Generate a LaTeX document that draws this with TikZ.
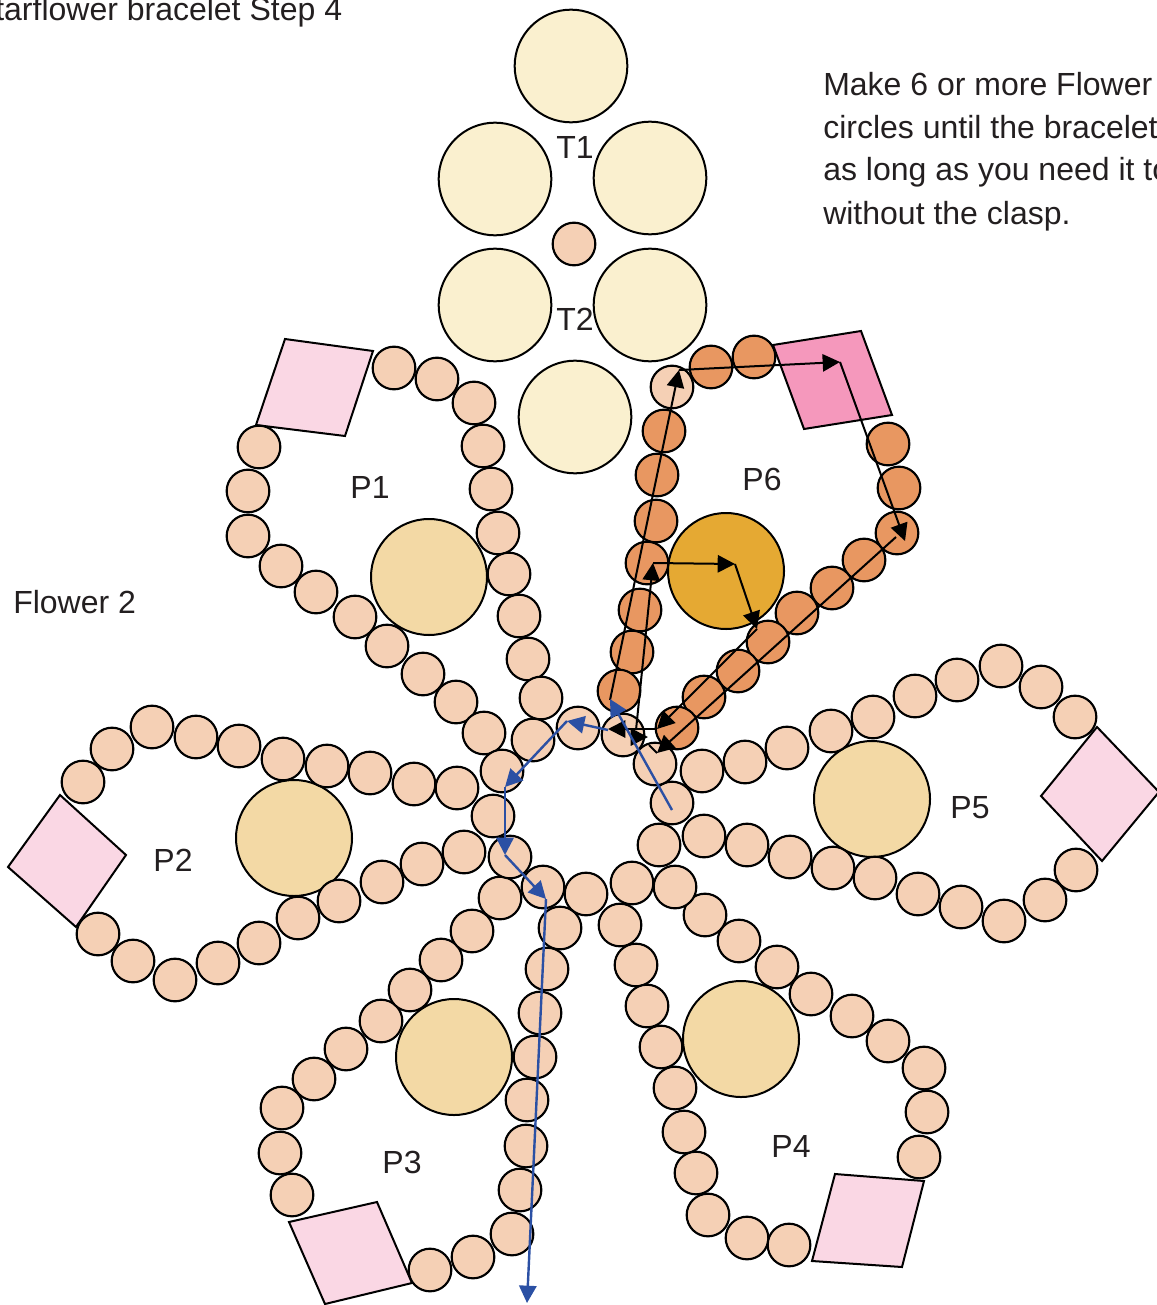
\documentclass[tikz,border=0pt]{standalone}
\usepackage{fontspec}
\setmainfont{Liberation Sans}
\usetikzlibrary{arrows.meta}
\definecolor{ink}{HTML}{231F20}
\definecolor{beadfill}{HTML}{F5D0B5}
\definecolor{orangefill}{HTML}{E89761}
\definecolor{creamfill}{HTML}{FAF0CF}
\definecolor{tanfill}{HTML}{F3D9A5}
\definecolor{goldfill}{HTML}{E5A933}
\definecolor{palepink}{HTML}{FAD7E4}
\definecolor{hotpink}{HTML}{F598BC}
\definecolor{bluearrow}{HTML}{2B50A4}
\tikzset{
  bead/.style={circle,draw=black,line width=1.6pt,fill=beadfill,minimum size=32pt,inner sep=0pt,outer sep=0pt},
  orangebead/.style={bead,fill=orangefill},
  topcircle/.style={circle,draw=black,line width=1.5pt,fill=creamfill,minimum size=84.5pt,inner sep=0pt,outer sep=0pt},
  midcircle/.style={circle,draw=black,line width=1.5pt,fill=tanfill,minimum size=87pt,inner sep=0pt,outer sep=0pt},
  goldcircle/.style={midcircle,fill=goldfill},
  petalsquare/.style={draw=black,line width=1.5pt,fill=palepink,line join=miter},
  hotsquare/.style={petalsquare,fill=hotpink},
  label/.style={anchor=base,inner sep=0pt,text=ink,font=\fontsize{24}{30}\selectfont},
  leftlabel/.style={label,anchor=base west},
  blackflow/.style={draw=black,line width=1.5pt,-{Triangle[length=13pt,width=13pt]}},
  blackplain/.style={draw=black,line width=1.5pt},
  blueflow/.style={draw=bluearrow,line width=1.8pt,-{Triangle[length=13pt,width=13pt]}}
}
\begin{document}
\begin{tikzpicture}[x=0.75pt,y=-0.75pt]
\useasboundingbox (0,0) rectangle (1156,1305);

% squares
\draw[petalsquare] (285,339) -- (373,351) -- (345,436) -- (256,425) -- cycle;
\draw[petalsquare] (60,795) -- (126,855) -- (76,927) -- (8,867) -- cycle;
\draw[petalsquare] (289,1222) -- (377,1202) -- (412,1283) -- (325,1304) -- cycle;
\draw[petalsquare] (835,1174) -- (924,1181) -- (902,1267) -- (812,1261) -- cycle;
\draw[petalsquare] (1097,727) -- (1159,792) -- (1102,861) -- (1041,796) -- cycle;
\draw[hotsquare] (773,345) -- (861,331) -- (892,415) -- (804,429) -- cycle;

% big circles
\node[topcircle] (top1) at (571,66) {};
\node[topcircle] (top2) at (495,179) {};
\node[topcircle] (top3) at (650,178) {};
\node[topcircle] (top4) at (495,305) {};
\node[topcircle] (top5) at (650,305) {};
\node[topcircle] (top6) at (575,417) {};
\node[bead] (topbead) at (574,244) {};
\node[midcircle] (mid1) at (429,577) {};
\node[midcircle] (mid2) at (294,838) {};
\node[midcircle] (mid3) at (454,1057) {};
\node[midcircle] (mid4) at (741,1039) {};
\node[midcircle] (mid5) at (872,799) {};
\node[goldcircle] (mid6) at (726,571) {};

% beads
\foreach \x/\y [count=\i] in {394/368,437/379,474/403,483/446,491/489,498/533,509/574,519/616,528/659,541/698}
  \node[bead] (pa-\i) at (\x,\y) {};
\foreach \x/\y [count=\i] in {259/447,248/491,248/536,281/566,316/592,355/617,387/646,423/674,456/702,484/733}
  \node[bead] (pb-\i) at (\x,\y) {};
\foreach \x/\y [count=\i] in {83/782,112/749,152/727,196/737,239/746,283/759,327/766,370/773,414/784,457/788}
  \node[bead] (pc-\i) at (\x,\y) {};
\foreach \x/\y [count=\i] in {98/934,133/961,175/980,218/963,259/943,298/918,339/901,382/882,422/864,464/852}
  \node[bead] (pd-\i) at (\x,\y) {};
\foreach \x/\y [count=\i] in {560/928,547/969,540/1013,535/1057,527/1100,526/1146,520/1190,512/1234,473/1257,430/1270}
  \node[bead] (pe-\i) at (\x,\y) {};
\foreach \x/\y [count=\i] in {292/1195,280/1153,282/1108,314/1079,346/1049,381/1021,410/990,441/960,472/931,500/898}
  \node[bead] (pf-\i) at (\x,\y) {};
\foreach \x/\y [count=\i] in {620/925,636/965,647/1006,661/1047,675/1088,684/1132,696/1173,708/1215,747/1238,789/1245}
  \node[bead] (pg-\i) at (\x,\y) {};
\foreach \x/\y [count=\i] in {919/1157,927/1112,924/1068,888/1041,852/1016,811/994,777/967,739/941,705/915,675/887}
  \node[bead] (ph-\i) at (\x,\y) {};
\foreach \x/\y [count=\i] in {702/771,745/762,787/748,831/731,873/717,915/696,957/680,1001/666,1041/687,1075/717}
  \node[bead] (pi-\i) at (\x,\y) {};
\foreach \x/\y [count=\i] in {1076/870,1045/900,1004/921,961/907,918/894,875/878,833/868,790/857,747/845,704/836}
  \node[bead] (pj-\i) at (\x,\y) {};
\foreach \x/\y [count=\i] in {533/740,502/771,493/816,510/857,543/887,586/894,632/883,659/845,672/803,655/764,623/735,578/728}
  \node[bead] (ring-\i) at (\x,\y) {};
\node[bead] (six-0) at (672,387) {};
\foreach \x/\y [count=\i] in {711/367,754/357,888/444,899/488,897/533,864/560,832/588,797/613,768/642,738/671,704/697,677/728}
  \node[orangebead] (sixa-\i) at (\x,\y) {};
\foreach \x/\y [count=\i] in {664/431,657/475,656/521,647/563,640/610,632/652,619/691}
  \node[orangebead] (sixb-\i) at (\x,\y) {};

% arrow waypoints
\coordinate (k1) at (610,700);
\coordinate (k2) at (679,370);
\coordinate (k3) at (840,362);
\coordinate (k4) at (905,541);
\coordinate (k5) at (896,537);
\coordinate (k6) at (657,753);
\coordinate (k7) at (649,745);
\coordinate (k8) at (630,737);
\coordinate (k9) at (648,737);
\coordinate (k10) at (636,730);
\coordinate (k11) at (653,563);
\coordinate (k12) at (735,564);
\coordinate (k13) at (757,629);
\coordinate (k14) at (657,729);
\coordinate (k15) at (608,729);
\coordinate (u1) at (672,810);
\coordinate (u2) at (610,699);
\coordinate (u3) at (608,730);
\coordinate (u4) at (567,721);
\coordinate (u5) at (505,787);
\coordinate (u6) at (505,855);
\coordinate (u7) at (546,899);
\coordinate (u8) at (527,1303);

% black path
\draw[blackflow] (k1) -- (k2);
\draw[blackflow] (k2) -- (k3);
\draw[blackflow] (k3) -- (k4);
\draw[blackflow] (k5) -- (k6);
\draw[blackplain] (k6) -- (k7);
\draw[blackflow] (k8) -- (k9);
\draw[blackflow] (k10) -- (k11);
\draw[blackflow] (k11) -- (k12);
\draw[blackflow] (k12) -- (k13);
\draw[blackflow] (k13) -- (k14);
\draw[blackflow] (k14) -- (k15);

% blue path
\draw[blueflow] (u1) -- (u2);
\draw[blueflow] (u3) -- (u4);
\draw[blueflow] (u4) -- (u5);
\draw[blueflow] (u5) -- (u6);
\draw[blueflow] (u6) -- (u7);
\draw[blueflow] (u7) -- (u8);

% labels
\node[leftlabel] (title) at (-5,21) {tarflower bracelet Step 4};
\node[leftlabel] (note1) at (823,96) {Make 6 or more Flower};
\node[leftlabel] (note2) at (823,139) {circles until the bracelet};
\node[leftlabel] (note3) at (823,181) {as long as you need it to};
\node[leftlabel] (note4) at (823,224) {without the clasp.};
\node[leftlabel] (flower) at (13,613) {Flower 2};
\node[label] (t1) at (575,159) {T1};
\node[label] (t2) at (575,330) {T2};
\node[label] (lp1) at (370,498) {P1};
\node[label] (lp2) at (173,871) {P2};
\node[label] (lp3) at (402,1173) {P3};
\node[label] (lp4) at (791,1157) {P4};
\node[label] (lp5) at (970,818) {P5};
\node[label] (lp6) at (762,490) {P6};
\end{tikzpicture}
\end{document}
